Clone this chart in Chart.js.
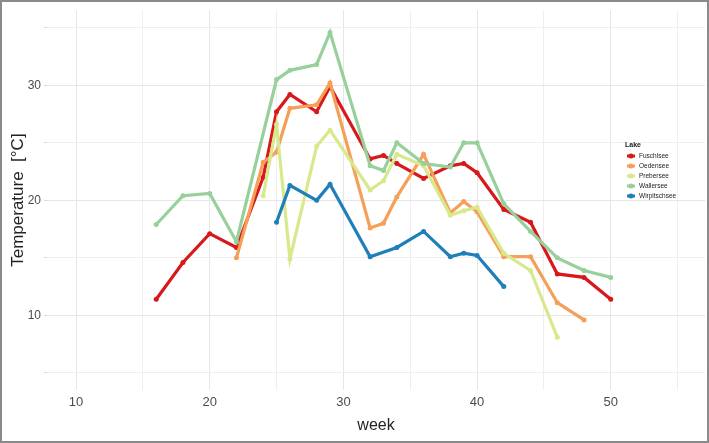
<!DOCTYPE html>
<html>
<head>
<meta charset="utf-8">
<script src="https://cdn.jsdelivr.net/npm/chart.js@4.4.1/dist/chart.umd.min.js"></script>
<style>
  html, body { margin: 0; padding: 0; background: #fff; }
  #wrap { width: 709px; height: 443px; }
</style>
</head>
<body>
<div id="wrap"><canvas id="lakeChart" width="709" height="443"></canvas></div>
<script>
const lakes = ["Fuschlsee", "Oedensee", "Prebersee", "Wallersee", "Wirpitschsee"];
const lakeColors = ["#d7191c", "#f59f58", "#d8e98c", "#97d09a", "#1f7fb8"];

const fuschlWeeks = [16, 18, 20, 22, 24, 25, 26, 28, 29, 32, 33, 34, 36, 38, 39, 40, 42, 44, 46, 48, 50];
const fuschlTemp  = [11.4, 14.6, 17.1, 15.9, 22.0, 27.7, 29.2, 27.7, 29.9, 23.6, 23.9, 23.2, 21.9, 23.0, 23.2, 22.4, 19.2, 18.1, 13.6, 13.3, 11.4];

const oedenWeeks = [22, 24, 25, 26, 28, 29, 32, 33, 34, 36, 38, 39, 40, 42, 44, 46, 48];
const oedenTemp  = [15.0, 23.3, 24.2, 28.0, 28.3, 30.2, 17.6, 18.0, 20.3, 24.0, 18.9, 19.9, 19.0, 15.1, 15.1, 11.1, 9.6];

const preberWeeks = [24, 25, 26, 28, 29, 32, 33, 34, 36, 38, 39, 40, 42, 44, 46];
const preberTemp  = [20.4, 26.6, 14.9, 24.7, 26.1, 20.9, 21.7, 24.0, 23.0, 18.7, 19.1, 19.4, 15.4, 13.9, 8.1];

const wallerWeeks = [16, 18, 20, 22, 25, 26, 28, 29, 32, 33, 34, 36, 38, 39, 40, 42, 44, 46, 48, 50];
const wallerTemp  = [17.9, 20.4, 20.6, 16.4, 30.5, 31.3, 31.8, 34.6, 23.0, 22.6, 25.0, 23.2, 22.9, 25.0, 25.0, 19.7, 17.3, 15.0, 13.9, 13.3];

const wirpWeeks = [25, 26, 28, 29, 32, 34, 36, 38, 39, 40, 42];
const wirpTemp  = [18.1, 21.3, 20.0, 21.4, 15.1, 15.9, 17.3, 15.1, 15.4, 15.2, 12.5];

const xTicks = [10, 15, 20, 25, 30, 35, 40, 45, 50, 55];
const yTicks = [5, 10, 15, 20, 25, 30, 35];

const allWeeks = [fuschlWeeks, oedenWeeks, preberWeeks, wallerWeeks, wirpWeeks];
const allTemps = [fuschlTemp, oedenTemp, preberTemp, wallerTemp, wirpTemp];

const datasets = lakes.map((name, i) => ({
  label: name,
  data: allWeeks[i].map((w, j) => ({ x: w, y: allTemps[i][j] })),
  borderColor: lakeColors[i],
  backgroundColor: lakeColors[i],
  borderWidth: 3.2,
  pointRadius: 2.5,
  pointBorderWidth: 0,
  tension: 0,
  order: lakes.length - i
}));

// ggplot style legend sitting inside the panel, plus the grey frame
const lakeLegend = {
  id: "lakeLegend",
  afterDraw(chart) {
    const c = chart.ctx;
    c.save();
    c.fillStyle = "#1a1a1a";
    c.font = "bold 7px 'Liberation Sans', Arial, sans-serif";
    c.textBaseline = "middle";
    c.fillText("Lake", 625, 145);
    c.font = "6.5px 'Liberation Sans', Arial, sans-serif";
    lakes.forEach((name, i) => {
      const y = 156 + i * 10;
      c.strokeStyle = lakeColors[i];
      c.lineWidth = 3;
      c.beginPath();
      c.moveTo(627, y);
      c.lineTo(635, y);
      c.stroke();
      c.fillStyle = lakeColors[i];
      c.beginPath();
      c.arc(631, y, 2.5, 0, Math.PI * 2);
      c.fill();
      c.fillStyle = "#1a1a1a";
      c.fillText(name, 639, y);
    });
    c.strokeStyle = "#8a8a8a";
    c.lineWidth = 2;
    c.strokeRect(1, 1, 707, 441);
    c.restore();
  }
};

const gridColor = ctx => (ctx.tick && ctx.tick.value % 10 === 0) ? "#e6e6e6" : "#efefef";

new Chart(document.getElementById("lakeChart"), {
  type: "line",
  data: { datasets: datasets },
  options: {
    responsive: false,
    animation: false,
    layout: { padding: { top: 6, right: 4, left: 0, bottom: 0 } },
    plugins: {
      legend: { display: false },
      tooltip: { enabled: false }
    },
    scales: {
      x: {
        type: "linear",
        min: 7.83,
        max: 57.05,
        afterBuildTicks: scale => { scale.ticks = xTicks.map(v => ({ value: v })); },
        afterFit: scale => { scale.height = 53; },
        border: { display: false },
        grid: { color: gridColor, drawTicks: false },
        ticks: {
          padding: 5,
          color: "#4d4d4d",
          font: { size: 13, family: "'Liberation Sans', Arial, sans-serif" },
          callback: v => (v % 10 === 0 ? v : "")
        },
        title: {
          display: true,
          text: "week",
          color: "#222",
          padding: { top: 0, bottom: 8 },
          font: { size: 16, family: "'Liberation Sans', Arial, sans-serif" }
        }
      },
      y: {
        type: "linear",
        min: 3.51,
        max: 36.53,
        afterBuildTicks: scale => { scale.ticks = yTicks.map(v => ({ value: v })); },
        afterFit: scale => { scale.width = 47; },
        border: { display: false },
        grid: { color: gridColor, drawTicks: true, tickLength: 3, tickColor: "#d9d9d9" },
        ticks: {
          padding: 3,
          color: "#4d4d4d",
          font: { size: 12, family: "'Liberation Sans', Arial, sans-serif" },
          callback: v => (v % 10 === 0 ? v : "")
        },
        title: {
          display: true,
          text: "Temperature  [°C]",
          color: "#222",
          padding: { top: 8, bottom: 0 },
          font: { size: 17, family: "'Liberation Sans', Arial, sans-serif" }
        }
      }
    }
  },
  plugins: [lakeLegend]
});
</script>
</body>
</html>
